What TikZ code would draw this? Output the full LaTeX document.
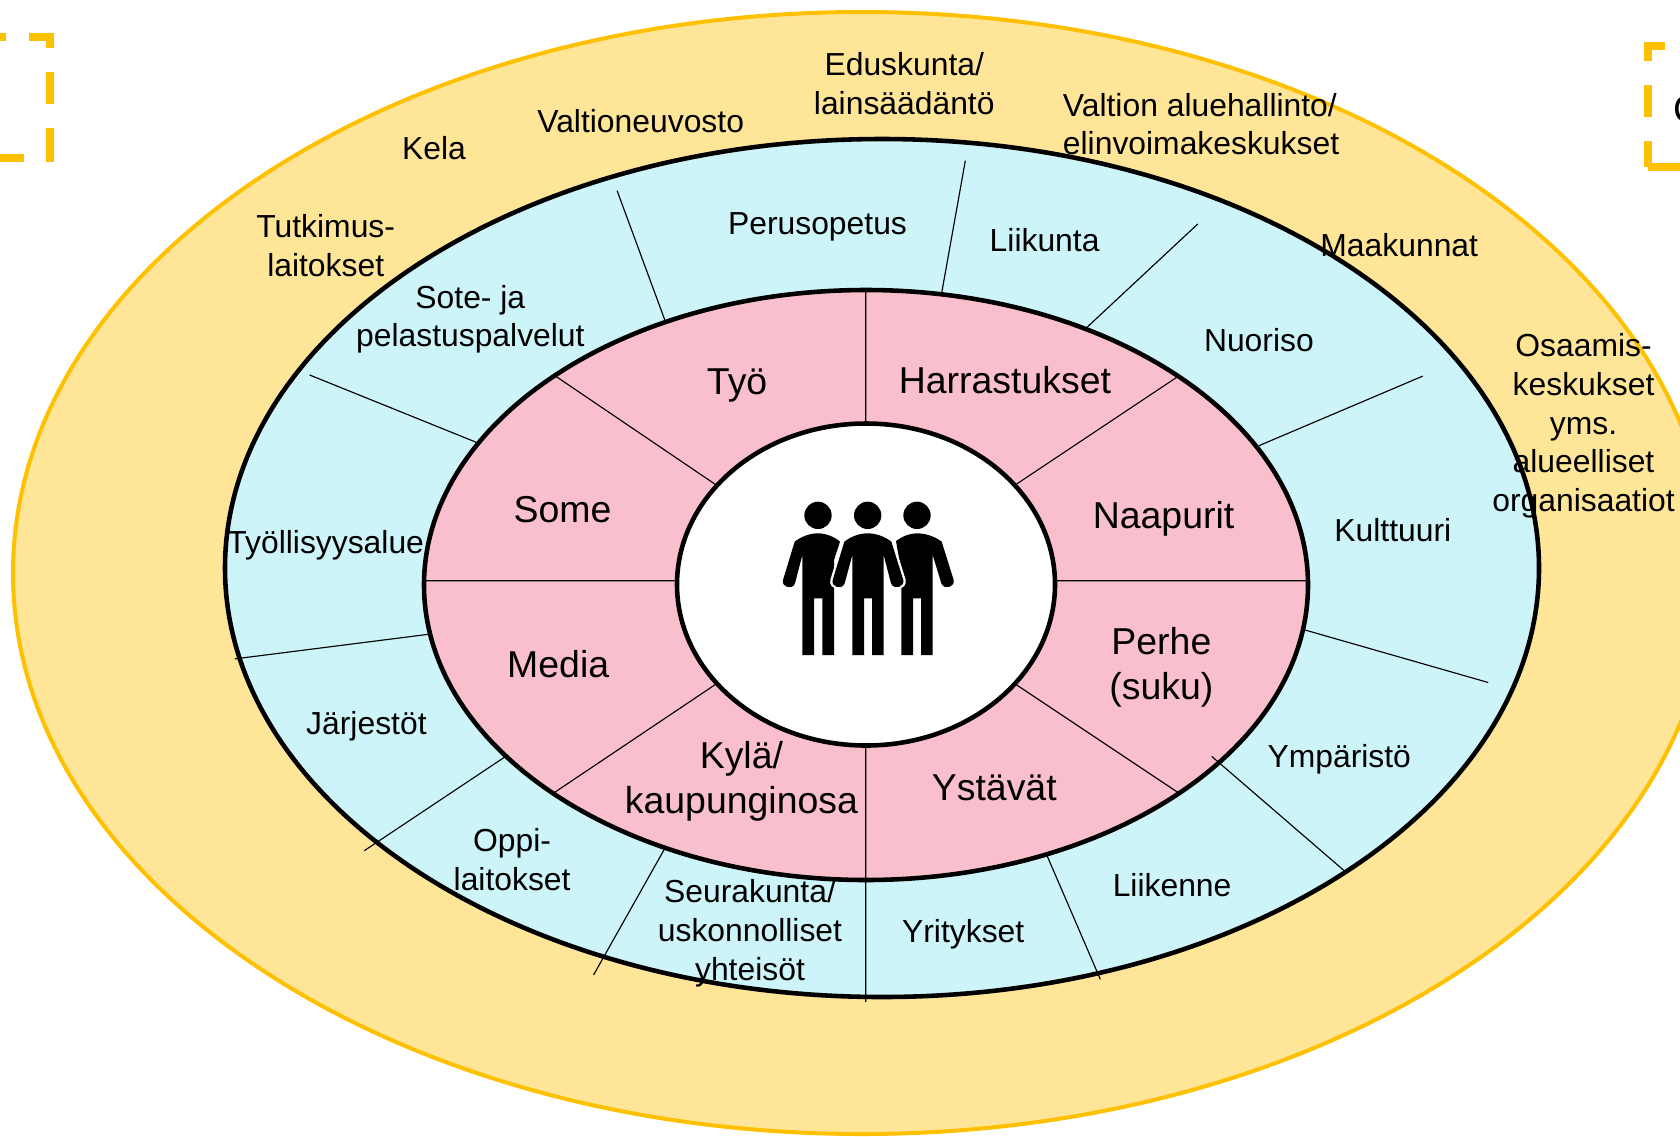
\documentclass[tikz,border=0pt]{standalone}
\usepackage{fontspec}
\setmainfont{Liberation Sans}
\definecolor{ring}{HTML}{FFE597}
\definecolor{gold}{HTML}{FFC000}
\definecolor{sky}{HTML}{CDF4F8}
\definecolor{rosa}{HTML}{F9BFCC}
\tikzset{
  ol/.style={font=\fontsize{22.3}{27}\selectfont,align=center,inner sep=0pt,text=black},
  il/.style={font=\fontsize{26.2}{31.5}\selectfont,align=center,inner sep=0pt,text=black},
  thick line/.style={draw=black,line width=3.2pt},
  thinl/.style={draw=black,line width=0.8pt},
  dash seg/.style={draw=gold,line width=5.6pt},
  person/.style={fill=black},
  halo/.style={draw=white,line width=3.2pt}
}
\newcommand{\personpath}{(313,245) .. controls (335,228) and (360,220) .. (383,220) .. controls (406,220) and (432,228) .. (454,245) -- (490,360) .. controls (495,380) and (462,392) .. (453,370) -- (431,285) -- (431,585) -- (396,585) -- (396,415) -- (372,415) -- (372,585) -- (337,585) -- (337,285) -- (314,370) .. controls (305,392) and (272,380) .. (278,360) -- cycle}
\begin{document}
\begin{tikzpicture}[x=0.7pt,y=-0.7pt]
\useasboundingbox (0,0) rectangle (1680,1136);
\clip (0,0) rectangle (1680,1136);
% rings (reference pixels)
\draw[draw=gold,fill=ring,line width=2.8pt] (862,573) ellipse [x radius=849,y radius=561];
\draw[thick line,fill=sky] (882,568) ellipse [x radius=657,y radius=429];
\draw[thick line,fill=rosa] (866,585) ellipse [x radius=442,y radius=295];
% corner dashes
\draw[dash seg] (0,37) -- (6,37) (29,37) -- (54,37) (50,33) -- (50,48) (50,72) -- (50,104) (50,128) -- (50,162) (0,158) -- (24,158);
\draw[dash seg] (1665,46) -- (1644,46) (1648,42) -- (1648,61) (1648,85) -- (1648,117) (1648,141) -- (1648,167) (1648,167) -- (1680,167);
\node[anchor=west,font=\fontsize{27}{30}\selectfont,inner sep=0pt] (cut) at (1673,109) {C};
\begin{scope}[scale=1.0714]
% pink spokes
\draw[thinl] (808,271) -- (808,395) (808,696) -- (808,935)
  (396,542) -- (632,542) (985,542) -- (1221,542)
  (517,350) -- (669,453) (1100,351) -- (947,453)
  (669,638) -- (517,740) (947,638) -- (1100,740);
% blue spokes
\draw[thinl] (576,178) -- (621,300) (901,150) -- (879,273) (1118,209) -- (1014,306)
  (1328,351) -- (1175,416) (1389,637) -- (1218,588) (1255,813) -- (1131,706)
  (977,798) -- (1027,914) (621,791) -- (554,910) (472,706) -- (340,794)
  (400,592) -- (219,615) (289,350) -- (445,413);
\end{scope}
\draw[thick line,fill=white] (866,584.5) ellipse [x radius=189,y radius=161];
% people
\begin{scope}[shift={(740,460)},scale=1/3]
\fill[person] (234,166) circle [radius=41];
\fill[person] (383,166) circle [radius=41];
\fill[person] (531,166) circle [radius=41];
\fill[person] (164,245) .. controls (186,228) and (211,220) .. (234,220) .. controls (255,220) and (280,228) .. (300,245) -- (282,300) -- (282,585) -- (247,585) -- (247,415) -- (222,415) -- (222,585) -- (187,585) -- (187,285) -- (165,370) .. controls (156,392) and (123,380) .. (129,360) -- cycle;
\fill[person] (468,243) .. controls (490,228) and (508,220) .. (531,220) .. controls (554,220) and (583,228) .. (605,245) -- (641,360) .. controls (646,380) and (613,392) .. (604,370) -- (578,285) -- (578,585) -- (543,585) -- (543,415) -- (519,415) -- (519,585) -- (484,585) -- (484,380) -- (490,370) -- cycle;
\path[halo] \personpath;
\fill[person] \personpath;
\end{scope}
\begin{scope}[scale=1.0714]
\node[ol] (edu) at (844,78) {Eduskunta/\\lainsäädäntö};
\node[ol] (val) at (598,113) {Valtioneuvosto};
\node[ol] (kela) at (405,138) {Kela};
\node[ol] (tut) at (304,229.5) {Tutkimus-\\laitokset};
\node[ol,align=left] (alue) at (1121,116) {Valtion aluehallinto/\\elinvoimakeskukset};
\node[ol] (maak) at (1306,229) {Maakunnat};
\node[ol] (osa) at (1478,397.5) {Osaamis-\\keskukset\\yms.\\alueelliset\\organisaatiot};
\node[ol] (peru) at (763,211.5) {Perusopetus};
\node[ol] (liik) at (975,224) {Liikunta};
\node[ol] (sote) at (439,298) {Sote- ja\\pelastuspalvelut};
\node[ol] (nuor) at (1175,317.5) {Nuoriso};
\node[ol] (kult) at (1300,495) {Kulttuuri};
\node[ol] (tyol) at (304,509) {Työllisyysalue};
\node[ol] (jarj) at (342,678) {Järjestöt};
\node[ol] (ymp) at (1250,709) {Ympäristö};
\node[ol] (oppi) at (478,802.5) {Oppi-\\laitokset};
\node[ol] (seur) at (700,871) {Seurakunta/\\uskonnolliset\\yhteisöt};
\node[ol] (yrit) at (899,872) {Yritykset};
\node[ol] (lii2) at (1094,826) {Liikenne};
\node[il] (tyo) at (688,360) {Työ};
\node[il] (harr) at (938,355) {Harrastukset};
\node[il] (some) at (525,476) {Some};
\node[il] (naap) at (1086,484) {Naapurit};
\node[il] (medi) at (521,620) {Media};
\node[il] (perh) at (1084,622.5) {Perhe\\(suku)};
\node[il] (kyla) at (692,729) {Kylä/\\kaupunginosa};
\node[il] (ysta) at (928,735) {Ystävät};
\end{scope}
\end{tikzpicture}
\end{document}
